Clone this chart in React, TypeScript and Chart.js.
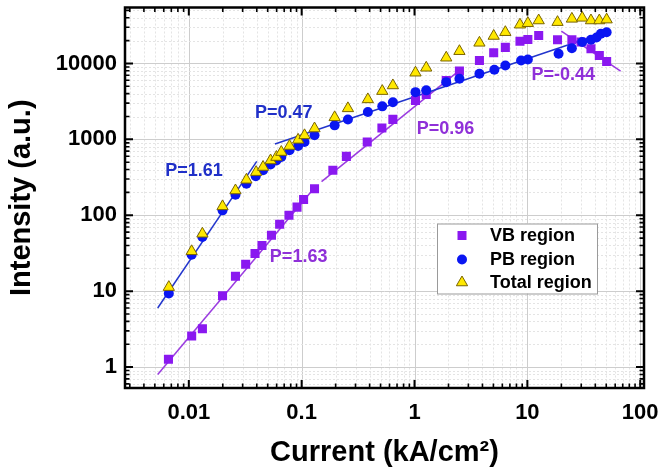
import React, { useEffect, useRef } from 'react';
import { Chart, registerables } from 'chart.js';

Chart.register(...registerables);

// ---- Data ----
const vbX = [0.0066, 0.0106, 0.0132, 0.0199, 0.0259, 0.0319, 0.0386, 0.0445, 0.054, 0.0638, 0.0772, 0.091, 0.104, 0.13, 0.189, 0.249, 0.381, 0.514, 0.643, 1.02, 1.27, 1.91, 2.5, 3.76, 5.03, 6.38, 8.6, 10.1, 12.6, 18.5, 24.8, 29.9, 36.6, 43.4, 50.4];
const vbY = [1.27, 2.56, 3.19, 8.7, 15.7, 22.6, 31.3, 40, 54.6, 76, 100, 128, 161, 224, 391, 597, 921, 1410, 1833, 3260, 3900, 5970, 7950, 10960, 13800, 16300, 19600, 20700, 23300, 20500, 20500, 19200, 15600, 12700, 10600];

const pbX = [0.00665, 0.0106, 0.0132, 0.0199, 0.0259, 0.0324, 0.0392, 0.0455, 0.053, 0.0597, 0.066, 0.078, 0.093, 0.106, 0.13, 0.196, 0.257, 0.386, 0.518, 0.643, 1.02, 1.27, 1.91, 2.5, 3.76, 5.1, 6.38, 8.8, 10.1, 18.9, 24.8, 30.6, 36.6, 41, 44.8, 50.4];
const pbY = [9.3, 30.2, 51.9, 116, 186, 261, 326, 391, 468, 527, 585, 717, 817, 922, 1130, 1530, 1830, 2290, 2720, 3090, 4190, 4420, 5670, 6300, 7310, 8260, 9420, 10960, 11300, 13400, 15900, 19200, 20500, 22000, 24600, 25800];

const totX = [0.00665, 0.0106, 0.0132, 0.0199, 0.0259, 0.0324, 0.0395, 0.0455, 0.053, 0.0597, 0.066, 0.078, 0.093, 0.106, 0.13, 0.196, 0.257, 0.386, 0.518, 0.643, 1.02, 1.27, 1.91, 2.5, 3.76, 5.03, 6.38, 8.6, 10.1, 12.6, 18.5, 24.8, 30.6, 36.6, 43.4, 50.4];
const totY = [11.3, 33.5, 57, 131, 212, 293, 370, 432, 527, 585, 680, 817, 985, 1130, 1390, 1950, 2560, 3360, 4320, 5130, 7550, 8770, 11900, 14500, 18700, 23000, 25800, 32400, 33900, 36800, 35000, 38700, 39900, 36800, 36800, 37800];

// fit lines
const fitPB1X = [0.0053, 0.04];
const fitPB1Y = [6.0, 513];
const fitPB2X = [0.058, 50];
const fitPB2Y = [870, 26000];
const fitVB1X = [0.0053, 0.132];
const fitVB1Y = [0.8, 238];
const fitVB2X = [0.15, 2.6];
const fitVB2Y = [277, 8500];
const fitVB3X = [20, 67];
const fitVB3Y = [26600, 7940];

const xTickValues = [0.01, 0.1, 1, 10, 100];
const xTickLabels = ['0.01', '0.1', '1', '10', '100'];
const yTickValues = [1, 10, 100, 1000, 10000];
const yTickLabels = ['1', '10', '100', '1000', '10000'];

const annTexts = ['P=1.61', 'P=0.47', 'P=1.63', 'P=0.96', 'P=-0.44'];
const annX = [0.0111, 0.0693, 0.094, 1.88, 20.8];
const annY = [379, 2200, 28, 1355, 6950];

// ---- Styles ----
const FONT = "'Liberation Sans', Arial, Helvetica, sans-serif";
const PURPLE = '#8a18f0';
const BLUE = '#0a16f2';
const YELLOW = '#ffe800';
const YELLOW_EDGE = '#7a6400';
const BLUE_LINE = '#2235cc';
const PURPLE_LINE = '#9a3be0';
const BLUE_TEXT = '#2030c8';
const PURPLE_TEXT = '#8f30d8';
const annColors = [BLUE_TEXT, BLUE_TEXT, PURPLE_TEXT, PURPLE_TEXT, PURPLE_TEXT];

const pts = (xs: number[], ys: number[]) => xs.map((x, i) => ({ x, y: ys[i] }));

const gridPlugin = {
  id: 'logGrid',
  beforeDatasetsDraw(chart: any) {
    const { ctx, chartArea: a, scales } = chart;
    ctx.save();
    ctx.beginPath();
    ctx.rect(a.left, a.top, a.right - a.left, a.bottom - a.top);
    ctx.clip();
    const drawFor = (scale: any, horiz: boolean) => {
      const lo = Math.floor(Math.log10(scale.min));
      const hi = Math.ceil(Math.log10(scale.max));
      for (let d = lo; d <= hi; d++) {
        for (let m = 1; m <= 9; m++) {
          const v = m * Math.pow(10, d);
          if (v <= scale.min || v >= scale.max) continue;
          const p = Math.round(scale.getPixelForValue(v)) + 0.5;
          ctx.beginPath();
          ctx.lineWidth = 1;
          if (m === 1) {
            ctx.strokeStyle = '#cdcdcd';
            ctx.setLineDash([]);
          } else {
            ctx.strokeStyle = '#e4e4e4';
            ctx.setLineDash([2, 2]);
          }
          if (horiz) {
            ctx.moveTo(p, a.top);
            ctx.lineTo(p, a.bottom);
          } else {
            ctx.moveTo(a.left, p);
            ctx.lineTo(a.right, p);
          }
          ctx.stroke();
        }
      }
    };
    drawFor(scales.x, true);
    drawFor(scales.y, false);
    ctx.restore();
  },
};

const framePlugin = {
  id: 'frameTicks',
  afterDatasetsDraw(chart: any) {
    const { ctx, chartArea: a, scales } = chart;
    ctx.save();
    ctx.strokeStyle = '#000';
    ctx.setLineDash([]);
    const tickFor = (scale: any, horiz: boolean) => {
      const lo = Math.floor(Math.log10(scale.min));
      const hi = Math.ceil(Math.log10(scale.max));
      for (let d = lo; d <= hi; d++) {
        for (let m = 1; m <= 9; m++) {
          const v = m * Math.pow(10, d);
          if (v < scale.min || v > scale.max) continue;
          const p = scale.getPixelForValue(v);
          const len = m === 1 ? 8 : 4.5;
          ctx.lineWidth = m === 1 ? 2 : 1.6;
          ctx.beginPath();
          if (horiz) {
            ctx.moveTo(p, a.bottom);
            ctx.lineTo(p, a.bottom - len);
            ctx.moveTo(p, a.top);
            ctx.lineTo(p, a.top + len);
          } else {
            ctx.moveTo(a.left, p);
            ctx.lineTo(a.left + len, p);
            ctx.moveTo(a.right, p);
            ctx.lineTo(a.right - len, p);
          }
          ctx.stroke();
        }
      }
    };
    tickFor(scales.x, true);
    tickFor(scales.y, false);
    ctx.lineWidth = 2.5;
    ctx.strokeRect(a.left, a.top, a.right - a.left, a.bottom - a.top);
    ctx.restore();
  },
};

const drawMarker = (ctx: CanvasRenderingContext2D, kind: string, x: number, y: number) => {
  ctx.save();
  ctx.beginPath();
  if (kind === 'rect') {
    ctx.fillStyle = PURPLE;
    ctx.rect(x - 4.5, y - 4.5, 9, 9);
    ctx.fill();
  } else if (kind === 'circle') {
    ctx.fillStyle = BLUE;
    ctx.arc(x, y, 5, 0, Math.PI * 2);
    ctx.fill();
  } else {
    const r = 6.5;
    ctx.fillStyle = YELLOW;
    ctx.strokeStyle = YELLOW_EDGE;
    ctx.lineWidth = 1;
    ctx.moveTo(x, y - r);
    ctx.lineTo(x + r * Math.sin((2 * Math.PI) / 3), y - r * Math.cos((2 * Math.PI) / 3));
    ctx.lineTo(x + r * Math.sin((4 * Math.PI) / 3), y - r * Math.cos((4 * Math.PI) / 3));
    ctx.closePath();
    ctx.fill();
    ctx.stroke();
  }
  ctx.restore();
};

const overlayPlugin = {
  id: 'overlay',
  afterDraw(chart: any) {
    const { ctx, chartArea: a, scales } = chart;
    ctx.save();
    // annotations
    ctx.font = `bold 18px ${FONT}`;
    ctx.textAlign = 'center';
    ctx.textBaseline = 'middle';
    annTexts.forEach((t, i) => {
      ctx.fillStyle = annColors[i];
      ctx.fillText(t, scales.x.getPixelForValue(annX[i]), scales.y.getPixelForValue(annY[i]));
    });
    // legend
    const w = 160;
    const h = 70;
    const left = a.right - 47 - w;
    const top = a.top + 216;
    ctx.fillStyle = '#fff';
    ctx.fillRect(left, top, w, h);
    ctx.strokeStyle = '#9a9a9a';
    ctx.lineWidth = 1;
    ctx.strokeRect(left + 0.5, top + 0.5, w, h);
    const items = chart.data.datasets.filter((d: any) => d._legend);
    const rows = [12, 36, 59];
    ctx.font = `bold 18px ${FONT}`;
    ctx.textAlign = 'left';
    ctx.textBaseline = 'middle';
    items.forEach((d: any, i: number) => {
      const y = top + rows[i];
      drawMarker(ctx, d._legend, left + 25, y);
      ctx.fillStyle = '#000';
      ctx.fillText(d.label, left + 53, y + 1);
    });
    ctx.restore();
  },
};

const zeroPad = (s: any) => {
  s.paddingTop = 0;
  s.paddingBottom = 0;
  s.paddingLeft = 0;
  s.paddingRight = 0;
};

export default function App() {
  const ref = useRef<HTMLCanvasElement | null>(null);

  useEffect(() => {
    if (!ref.current) return;
    const lineDs = (xs: number[], ys: number[], color: string, order: number) => ({
      label: '',
      data: pts(xs, ys),
      showLine: true,
      borderColor: color,
      borderWidth: 1.5,
      pointRadius: 0,
      fill: false,
      order,
    });
    const chart = new Chart(ref.current, {
      type: 'scatter',
      data: {
        datasets: [
          {
            label: 'VB region',
            _legend: 'rect',
            data: pts(vbX, vbY),
            pointStyle: 'rect',
            pointRadius: 6.4,
            backgroundColor: PURPLE,
            borderColor: PURPLE,
            borderWidth: 0,
            order: 2,
          } as any,
          {
            label: 'PB region',
            _legend: 'circle',
            data: pts(pbX, pbY),
            pointStyle: 'circle',
            pointRadius: 5,
            backgroundColor: BLUE,
            borderColor: BLUE,
            borderWidth: 0,
            order: 1,
          } as any,
          {
            label: 'Total region',
            _legend: 'triangle',
            data: pts(totX, totY),
            pointStyle: 'triangle',
            pointRadius: 6.5,
            backgroundColor: YELLOW,
            borderColor: YELLOW_EDGE,
            borderWidth: 1,
            order: 0,
          } as any,
          lineDs(fitPB1X, fitPB1Y, BLUE_LINE, 5),
          lineDs(fitPB2X, fitPB2Y, BLUE_LINE, 5),
          lineDs(fitVB1X, fitVB1Y, PURPLE_LINE, 6),
          lineDs(fitVB2X, fitVB2Y, PURPLE_LINE, 6),
          lineDs(fitVB3X, fitVB3Y, PURPLE_LINE, 6),
        ],
      },
      options: {
        responsive: false,
        animation: false,
        devicePixelRatio: 1,
        layout: { padding: { left: 0, top: 7, right: 17, bottom: 0 } },
        plugins: { legend: { display: false }, tooltip: { enabled: false } },
        scales: {
          x: {
            type: 'logarithmic',
            position: 'bottom',
            min: 0.00272,
            max: 108,
            grid: { display: false, drawTicks: false },
            border: { display: false },
            afterBuildTicks: (s: any) => {
              s.ticks = xTickValues.map((v) => ({ value: v }));
            },
            afterFit: (s: any) => {
              s.height = 82;
              zeroPad(s);
            },
            ticks: {
              autoSkip: false,
              maxRotation: 0,
              minRotation: 0,
              padding: 12,
              color: '#000',
              font: { family: FONT, size: 22, weight: 'bold' },
              callback: (_v: any, i: number) => xTickLabels[i],
            },
            title: {
              display: true,
              text: 'Current (kA/cm²)',
              color: '#000',
              font: { family: FONT, size: 29, weight: 'bold' },
              padding: { top: 0, bottom: 0 },
            },
          },
          y: {
            type: 'logarithmic',
            position: 'left',
            min: 0.53,
            max: 54600,
            grid: { display: false, drawTicks: false },
            border: { display: false },
            afterBuildTicks: (s: any) => {
              s.ticks = yTickValues.map((v) => ({ value: v }));
            },
            afterFit: (s: any) => {
              s.width = 125;
              zeroPad(s);
            },
            ticks: {
              autoSkip: false,
              padding: 8,
              color: '#000',
              font: { family: FONT, size: 22, weight: 'bold' },
              callback: (_v: any, i: number) => yTickLabels[i],
            },
            title: {
              display: true,
              text: 'Intensity (a.u.)',
              color: '#000',
              font: { family: FONT, size: 29, weight: 'bold' },
              padding: { top: 5, bottom: 0 },
            },
          },
        },
      } as any,
      plugins: [gridPlugin, framePlugin, overlayPlugin],
    });
    return () => chart.destroy();
  }, []);

  return (
    <div style={{ position: 'fixed', left: 0, top: 0, width: 661, height: 470, background: '#fff' }}>
      <canvas ref={ref} width={661} height={470} style={{ display: 'block' }} />
    </div>
  );
}
